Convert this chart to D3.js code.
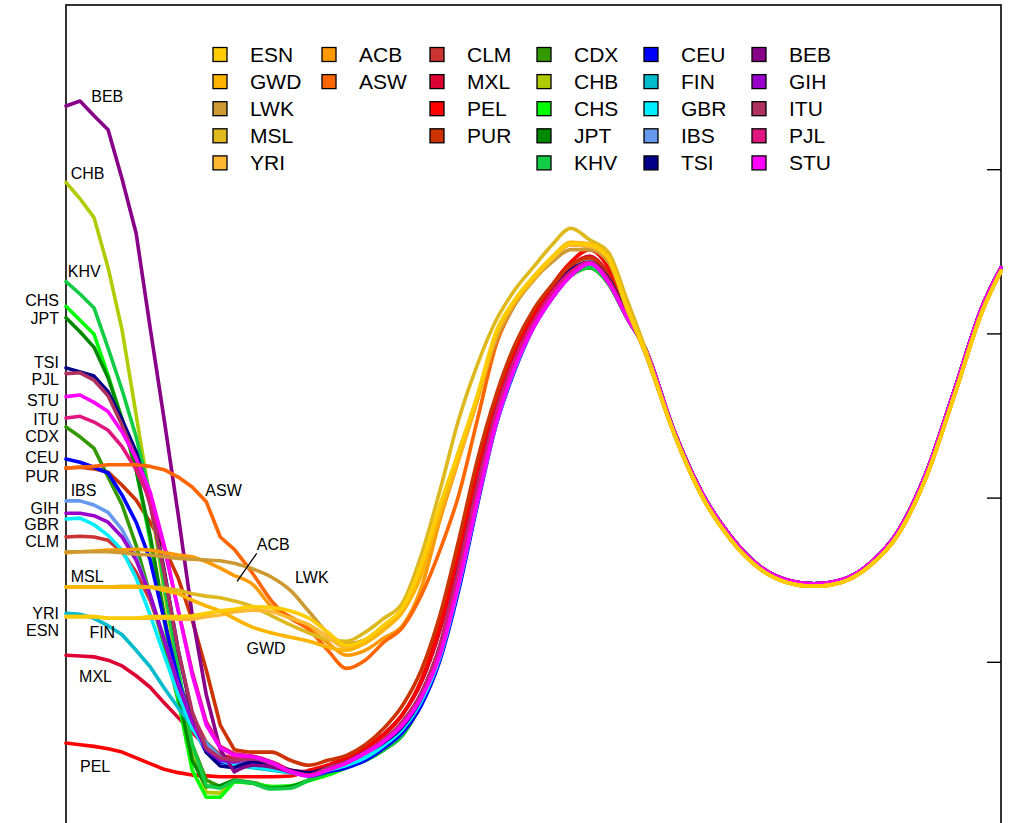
<!DOCTYPE html>
<html>
<head>
<meta charset="utf-8">
<script src="https://cdn.jsdelivr.net/npm/d3@7"></script>
<style>
  html, body { margin: 0; padding: 0; background: #fff; }
  svg { display: block; }
  text { font-family: "Liberation Sans", Arial, Helvetica, sans-serif; fill: #000; }
</style>
</head>
<body>
<svg id="chart" width="1012" height="823"></svg>
<script>
// x sample positions (arbitrary time units)
const xs = [0,1.5,3,4.5,6,7.5,9,10.5,12,13.5,15,16.5,18,
  20,22,24,26,28,30,32,34,36,38,40,42,44,46,48,50,52,54,56,58,60,62,
  65,68,71,74,77,80,83,86,89,92,95,98,100];

// shared tails where the populations coincide
const tailNonAfr = [48.2,40.6,35.4,31.8,30.0,29.5,30.0,32.0,35.9,43.0,53.0,63.3,68.0];
const tailAfr    = [47.9,40.2,35.0,31.5,29.7,29.2,29.7,31.7,35.5,42.5,52.4,62.7,67.6];

// African
const ESN = [25.5,25.5,25.5,25.3,25.3,25.3,25.5,25.5,25.5,25.6,25.9,26.2,26.4, 26.7,26.6,26.2,25.3,23.6,22.0,22.7,24.5,26.6,31.8,39.1,45.6,52.5,60.2,64.1,66.9,69.3,71.0,70.8,69.2,63.2,57.6];
const GWD = [29.1,29.1,29.1,29.1,29.1,29.1,29.1,28.7,28.3,27.5,26.8,26.2,25.3, 24.2,23.5,23.0,22.5,21.8,21.4,22.3,23.9,26.1,30.6,38.5,45.2,52.1,59.9,63.9,66.7,69.3,71.0,70.9,69.2,63.3,57.6];
const LWK = [33.4,33.4,33.4,33.4,33.3,33.1,33.0,32.8,32.6,32.5,32.4,32.3,32.0, 31.3,30.3,28.7,26.1,23.5,22.2,22.7,24.4,26.3,30.6,38.2,45.6,52.1,59.2,63.5,66.5,68.7,70.2,70.2,68.7,62.9,57.4];
const MSL = [29.1,29.1,29.1,29.1,29.2,29.2,29.1,29.0,28.7,28.3,28.0,27.8,27.4, 26.7,25.6,24.5,23.5,22.7,22.5,23.6,25.3,27.2,33.0,40.9,49.5,56.2,61.6,65.3,68.1,70.8,72.8,71.4,69.9,64.1,58.0];
const YRI = [25.5,25.5,25.5,25.3,25.3,25.3,25.3,25.3,25.2,25.2,25.5,25.7,26.1, 26.3,26.1,25.3,24.5,23.0,21.7,22.3,24.1,26.1,30.9,38.2,44.8,51.9,59.7,63.8,66.6,69.1,70.8,70.6,69.1,63.1,57.6];
const ACB = [33.3,33.4,33.5,33.6,33.6,33.7,33.6,33.3,33.0,32.8,32.2,31.4,30.5, 29.4,26.7,25.5,24.1,22.3,20.8,21.4,22.9,24.4,29.0,37.3,44.6,51.9,59.8,63.9,66.9,69.3,71.1,70.9,69.3,63.3,57.6];
const ASW = [43.6,43.7,43.8,44.0,44.0,44.0,43.8,43.4,42.5,41.3,39.5,35.2,33.7, 30.7,27.4,25.3,23.9,21.4,19.2,20.2,22.4,24.2,28.1,33.6,40.3,49.5,58.6,63.5,66.5,69.2,70.8,70.6,69.2,63.3,57.6];
// American
const CLM = [35.2,35.3,35.2,34.8,33.4,30.9,27.5,22.7,17.8,13.5,10.2,8.6,8.3, 8.0,7.8,6.8,6.6,7.4,8.3,9.5,11.2,13.6,17.5,23.9,33.0,43.1,51.6,57.7,62.1,65.5,68.2,69.4,67.2,62.2,58.0];
const MXL = [20.8,20.7,20.6,20.2,19.5,18.3,16.9,15.0,13.2,11.4,9.7,8.6,8.0, 7.9,7.7,6.8,6.6,7.4,8.3,9.5,11.2,13.6,17.5,23.9,33.0,43.1,51.6,57.7,62.1,65.5,68.2,69.4,67.2,62.2,58.0];
const PEL = [10.1,9.9,9.7,9.4,9.0,8.3,7.6,6.9,6.5,6.2,6.1,6.0,6.0, 6.0,6.0,6.1,6.8,7.4,8.3,9.5,11.1,13.6,17.8,24.5,33.6,43.6,51.9,58.0,62.2,65.9,68.7,70.2,68.0,62.6,58.0];
const PUR = [43.6,43.7,43.5,43.1,41.5,39.7,37.0,33.9,30.2,25.1,19.0,12.3,9.3, 9.0,9.0,8.0,7.4,8.0,8.6,9.9,11.9,14.7,19.0,25.7,34.8,44.6,52.5,58.6,62.9,65.9,68.3,69.2,67.1,62.2,58.0];
// East Asian
const CDX = [48.6,47.4,46.0,42.5,39.1,34.2,28.1,22.0,15.3,9.9,5.6,4.8,5.5, 5.3,4.7,4.8,5.6,6.5,7.2,8.0,9.3,11.1,15.1,21.2,30.2,40.5,49.9,56.3,61.0,64.5,67.0,68.0,66.1,61.9,58.0];
const CHB = [78.4,76.4,74.1,68.0,60.4,50.1,39.7,28.7,18.4,9.3,4.1,4.0,5.4, 5.2,4.6,4.8,5.6,6.5,7.2,8.0,9.3,11.1,15.0,21.2,30.2,40.3,49.7,56.2,61.0,64.6,67.1,68.0,66.1,61.9,58.0];
const CHS = [63.3,61.6,59.9,54.9,49.5,43.4,34.8,25.1,15.3,6.8,3.5,3.5,5.4, 5.2,4.8,4.9,5.5,6.2,7.1,8.0,9.3,11.1,15.1,21.2,30.2,40.3,49.7,56.2,61.0,64.6,67.1,68.0,66.1,61.9,58.0];
const JPT = [61.9,60.2,58.3,54.6,49.5,43.4,35.4,25.7,16.0,8.0,4.8,4.9,5.6, 5.2,4.6,4.8,5.6,6.5,7.2,8.0,9.3,11.1,15.0,21.2,30.2,40.3,49.7,56.2,61.0,64.6,67.1,68.0,66.1,61.9,58.0];
const KHV = [66.3,64.8,63.1,58.2,53.1,47.4,40.3,29.4,19.2,9.9,4.9,4.6,5.5, 5.2,4.5,4.6,5.6,6.5,7.2,8.0,9.3,11.1,15.1,21.2,30.2,40.6,50.0,56.4,61.0,64.3,67.0,68.0,66.1,61.9,58.0];
// European
const CEU = [44.7,44.3,43.7,43.0,40.3,37.0,32.4,25.1,17.8,12.3,9.0,7.8,7.4, 7.4,7.1,6.6,6.1,6.6,7.1,8.0,9.5,11.4,14.7,20.2,28.7,39.1,48.8,55.5,60.7,64.3,67.1,68.5,66.5,62.0,58.0];
const FIN = [25.9,25.8,25.3,24.4,23.3,21.4,19.4,16.8,14.4,12.2,10.1,8.4,7.4, 7.1,6.8,6.5,6.2,6.8,7.4,8.4,9.9,11.9,15.3,20.8,29.4,39.7,49.2,55.8,60.8,64.4,67.2,68.5,66.5,62.0,58.0];
const GBR = [37.4,37.5,36.7,35.4,33.6,30.2,25.7,20.8,16.0,11.9,9.3,8.0,7.4, 7.2,6.9,6.6,6.2,6.8,7.4,8.3,9.8,11.8,15.2,20.6,29.2,39.5,49.0,55.7,60.8,64.4,67.2,68.5,66.5,62.0,58.0];
const IBS = [39.6,39.6,39.1,38.2,36.1,32.8,28.1,22.7,17.2,12.9,9.9,8.4,7.8, 8.0,7.4,6.6,6.2,6.9,7.7,8.8,10.2,12.3,15.7,21.4,30.3,40.3,49.7,56.3,61.1,64.7,67.4,68.6,66.5,62.0,58.0];
const TSI = [55.8,55.3,54.8,52.9,49.5,45.6,39.7,31.2,21.4,13.5,9.0,7.3,7.1, 7.8,7.4,6.8,6.5,7.1,7.8,9.0,10.2,12.1,15.6,21.4,30.2,40.3,49.7,56.4,61.3,64.9,67.7,68.7,66.7,62.2,58.0];
// South Asian
const BEB = [87.7,88.3,86.5,84.8,78.8,72.2,60.7,49.5,37.9,25.7,16.0,9.3,6.6, 7.4,7.2,6.6,6.2,7.1,7.8,9.0,10.5,12.7,16.2,22.0,31.2,41.2,50.4,56.8,61.4,64.9,67.5,68.6,66.5,62.0,58.0];
const GIH = [38.1,38.1,37.8,37.0,35.2,32.4,28.1,22.7,17.2,12.7,9.3,8.0,7.8, 8.2,7.6,6.6,6.2,7.0,7.7,8.9,10.4,12.6,16.0,21.8,31.0,41.0,50.2,56.6,61.3,64.8,67.4,68.6,66.5,62.0,58.0];
const ITU = [55.1,55.2,54.3,52.4,48.8,44.8,39.1,30.9,21.4,13.9,9.5,8.3,8.0, 8.2,7.6,6.6,6.2,7.1,7.8,9.0,10.5,12.7,16.2,22.0,31.2,41.2,50.4,56.8,61.4,64.9,67.5,68.6,66.5,62.0,58.0];
const PJL = [49.7,49.9,49.2,48.2,46.2,43.4,39.7,33.9,26.3,18.8,12.7,9.7,8.8, 8.5,7.8,6.7,6.2,6.9,7.7,8.9,10.4,12.5,15.9,21.5,30.6,40.6,50.0,56.6,61.3,64.9,67.5,68.6,66.5,62.0,58.0];
const STU = [52.3,52.5,51.6,50.5,48.0,44.8,40.7,34.2,26.3,18.4,12.3,9.5,8.6, 8.4,7.7,6.6,6.1,6.8,7.7,8.9,10.3,12.3,15.6,20.8,29.4,39.5,49.0,55.8,60.7,64.3,67.0,68.5,66.2,61.9,58.0];

const africans = ["ESN","GWD","LWK","MSL","YRI","ACB","ASW"];
const colors = {
  ESN:"#ffcc00", GWD:"#ffb400", LWK:"#cc9933", MSL:"#ddb91e", YRI:"#ffb833",
  ACB:"#ff9900", ASW:"#ff6600",
  CLM:"#cc3333", MXL:"#dd0033", PEL:"#ff0000", PUR:"#cc3300",
  CDX:"#339900", CHB:"#b0cc00", CHS:"#00ff00", JPT:"#008800", KHV:"#11cc44",
  CEU:"#0000ff", FIN:"#00bbcc", GBR:"#00eeff", IBS:"#6699ee", TSI:"#000088",
  BEB:"#880088", GIH:"#9900cc", ITU:"#b03060", PJL:"#e0157f", STU:"#ff00ff"
};
const seriesData = {ESN,GWD,LWK,MSL,YRI,ACB,ASW,CLM,MXL,PEL,PUR,CDX,CHB,CHS,JPT,KHV,CEU,FIN,GBR,IBS,TSI,BEB,GIH,ITU,PJL,STU};

const legendColumns = [
  ["ESN","GWD","LWK","MSL","YRI"],
  ["ACB","ASW"],
  ["CLM","MXL","PEL","PUR"],
  ["CDX","CHB","CHS","JPT","KHV"],
  ["CEU","FIN","GBR","IBS","TSI"],
  ["BEB","GIH","ITU","PJL","STU"]
];
const drawOrder = ["CLM","MXL","PEL","PUR","CDX","CHB","CHS","JPT","KHV","CEU","FIN","GBR","IBS","TSI",
  "BEB","GIH","ITU","PJL","STU","ACB","ASW","LWK","MSL","YRI","GWD","ESN"];

// inline labels: [text, x-data, y-data, anchor]
const labels = [
  ["BEB", 2.7, 88.2, "start"], ["CHB", 0.5, 78.8, "start"], ["KHV", 0.2, 66.9, "start"],
  ["CHS", -0.75, 63.3, "end"], ["JPT", -0.75, 61.2, "end"], ["TSI", -0.75, 55.8, "end"],
  ["PJL", -0.75, 53.7, "end"], ["STU", -0.75, 51.2, "end"], ["ITU", -0.75, 48.9, "end"],
  ["CDX", -0.75, 46.8, "end"], ["CEU", -0.75, 44.2, "end"], ["PUR", -0.75, 41.9, "end"],
  ["IBS", 0.5, 40.2, "start"], ["ASW", 14.9, 40.2, "start"], ["GIH", -0.75, 38.0, "end"],
  ["GBR", -0.75, 36.0, "end"], ["CLM", -0.75, 34.0, "end"], ["ACB", 20.4, 33.6, "start"],
  ["MSL", 0.5, 29.7, "start"], ["LWK", 24.5, 29.6, "start"], ["YRI", -0.75, 25.2, "end"],
  ["ESN", -0.75, 23.1, "end"], ["FIN", 2.5, 22.9, "start"], ["GWD", 19.3, 21.0, "start"],
  ["MXL", 1.4, 17.6, "start"], ["PEL", 1.5, 6.6, "start"]
];
const acbLeader = [[20.4, 33.2], [18.3, 29.8]];
const yTicks = [20, 40, 60, 80];
const splitIndex = 12; // straight segments up to here, smooth afterwards

const svg = d3.select("#chart");
const x = d3.scaleLinear().domain([0, 100]).range([66, 1001]);
const y = d3.scaleLinear().domain([0, 100]).range([826, 5]);

// frame
svg.append("rect").attr("x", x(0)).attr("y", y(100)).attr("width", x(100) - x(0)).attr("height", 900)
  .attr("fill", "none").attr("stroke", "#000").attr("stroke-width", 1.6);

// right axis ticks pointing inward
const ax = svg.append("g").attr("transform", `translate(${x(100)},0)`)
  .call(d3.axisLeft(y).tickValues(yTicks).tickSize(14).tickFormat(""));
ax.select(".domain").remove();
ax.selectAll(".tick line").attr("stroke", "#000").attr("stroke-width", 1.4);

const lineStraight = d3.line().x(d => x(d[0])).y(d => y(d[1])).curve(d3.curveLinear);
const lineSmooth = d3.line().x(d => x(d[0])).y(d => y(d[1])).curve(d3.curveMonotoneX);

const g = svg.append("g");
drawOrder.forEach(name => {
  const vals = seriesData[name].concat(africans.includes(name) ? tailAfr : tailNonAfr);
  const pts = vals.map((v, i) => [xs[i], v]);
  const a = pts.slice(0, splitIndex + 1), b = pts.slice(splitIndex);
  const p = "M" + lineStraight(a).slice(1) + "L" + lineSmooth(b).slice(1);
  g.append("path").attr("d", p)
    .attr("fill", "none").attr("stroke", colors[name]).attr("stroke-width", 3.6)
    .attr("stroke-linejoin", "round").attr("stroke-linecap", "round");
});

// labels
svg.append("g").selectAll("text").data(labels).join("text")
  .attr("x", d => x(d[1])).attr("y", d => y(d[2])).attr("text-anchor", d => d[3])
  .attr("font-size", 16).text(d => d[0]);
svg.append("line").attr("x1", x(acbLeader[0][0])).attr("y1", y(acbLeader[0][1]))
  .attr("x2", x(acbLeader[1][0])).attr("y2", y(acbLeader[1][1]))
  .attr("stroke", "#000").attr("stroke-width", 1.3);

// legend
const colX = [213, 322, 430, 537, 644, 752];
const leg = svg.append("g");
legendColumns.forEach((col, ci) => {
  col.forEach((name, ri) => {
    const cy = 54.5 + ri * 27.1;
    leg.append("rect").attr("x", colX[ci]).attr("y", cy - 7).attr("width", 14).attr("height", 14)
      .attr("fill", colors[name]).attr("stroke", "#000").attr("stroke-width", 1.3);
    leg.append("text").attr("x", colX[ci] + 37).attr("y", cy + 7.5)
      .attr("font-size", 21).text(name);
  });
});
</script>
</body>
</html>
